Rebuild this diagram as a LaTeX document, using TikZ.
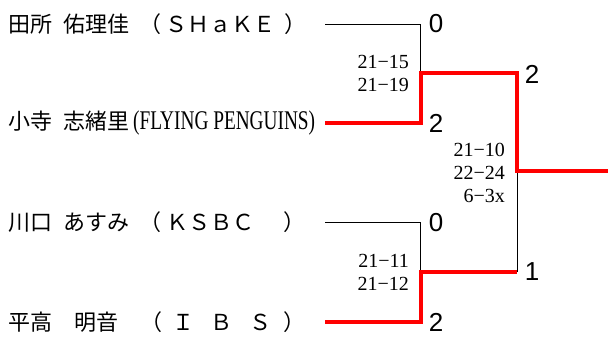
\documentclass[tikz,border=0pt]{standalone}
\usepackage{fontspec}
\usepackage{graphicx}
\setmainfont{Liberation Serif}
\newfontfamily\jpfont{Noto Sans CJK JP}
\newfontfamily\digitfont{Liberation Sans}
\begin{document}
\begin{tikzpicture}[x=1pt,y=-1pt,
  thinline/.style={line width=0.9pt,black},
  winline/.style={line width=4pt,red,line join=miter},
  namelabel/.style={anchor=west,inner sep=0pt,font=\jpfont\fontsize{22}{26}\selectfont},
  gamescore/.style={inner sep=0pt,font=\digitfont\fontsize{26}{28}\selectfont},
  setscore/.style={anchor=east,align=right,inner sep=0pt,font=\fontsize{20}{23}\selectfont}]
\useasboundingbox (0,0) rectangle (608,340);
% names
\node[namelabel] (n1) at (8,24) {田所\hspace{0.5em}佑理佳\hspace{0.45em}（\hspace{0.2em}ＳＨａＫＥ\hspace{0.4em}）};
\node[namelabel] (n2) at (8,123) {小寺\hspace{0.5em}志緒里\hspace{4pt}\resizebox{182pt}{\height}{\fontsize{27}{27}\selectfont\rmfamily (FLYING PENGUINS)}};
\node[namelabel] (n3) at (8,222) {川口\hspace{0.5em}あすみ\hspace{0.45em}（\hspace{0.25em}ＫＳＢＣ\hspace{1.3em}）};
\node[namelabel] (n4) at (8,322) {平高\hspace{1em}明音\hspace{1em}（\hspace{0.45em}Ｉ\hspace{0.75em}Ｂ\hspace{0.75em}Ｓ\hspace{0.55em}）};
% line coordinates
\coordinate (a1) at (325,24);
\coordinate (a2) at (325,123);
\coordinate (a3) at (325,222);
\coordinate (a4) at (325,322);
\coordinate (m1) at (420.5,72.5);
\coordinate (m2) at (420.5,272);
\coordinate (f1) at (517,72.5);
\coordinate (f2) at (517,272);
\coordinate (fc) at (517,171);
\coordinate (champ) at (608,171);
% bracket lines
\draw[thinline] (a1) -| (m1);
\draw[thinline] (a3) -| (m2);
\draw[thinline] (fc) -- (f2);
\draw[winline] (a2) -| (m1) -- (f1) |- (champ);
\draw[winline] (a4) -| (m2) -- (f2);
% game scores
\node[gamescore] (s1) at (436,24) {0};
\node[gamescore] (s2) at (436,123) {2};
\node[gamescore] (s3) at (436,223) {0};
\node[gamescore] (s4) at (436,322) {2};
\node[gamescore] (s5) at (532,74) {2};
\node[gamescore] (s6) at (532,272) {1};
% set scores
\node[setscore] (g1) at (409,73) {21−15\\21−19};
\node[setscore] (g2) at (505,173) {21−10\\22−24\\6−3x};
\node[setscore] (g3) at (409,272) {21−11\\21−12};
\end{tikzpicture}
\end{document}
